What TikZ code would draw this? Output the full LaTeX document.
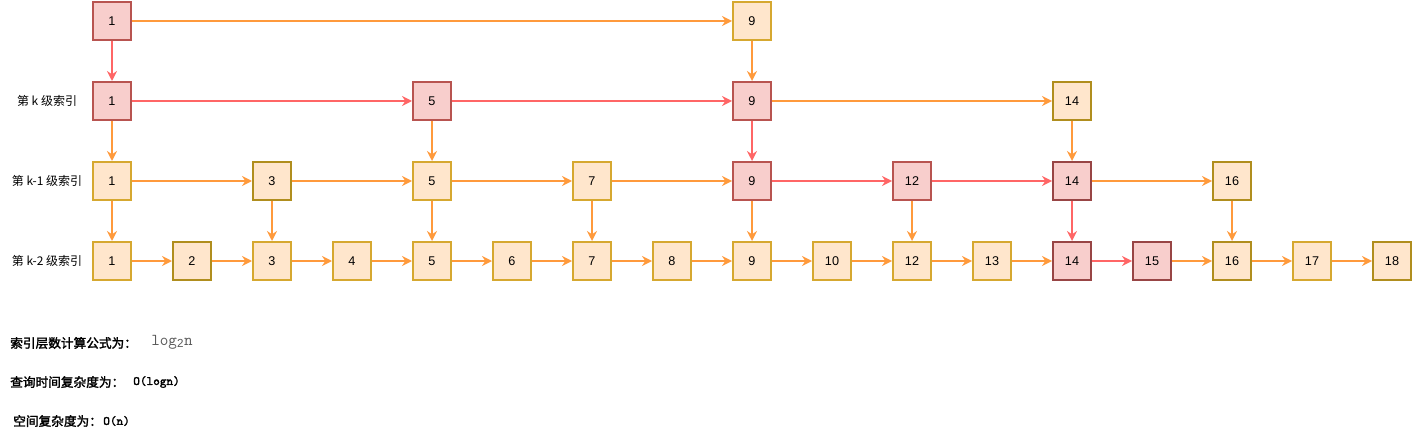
\documentclass[tikz,border=0pt]{standalone}
\usepackage{fontspec}
\setmainfont{Liberation Sans}
\newfontfamily\cjk{Noto Sans CJK SC}
\newfontfamily\cjkbf[FakeBold=2]{Noto Sans CJK SC}
\newfontfamily\monofnt[FakeBold=1.5]{Latin Modern Mono}
\usetikzlibrary{arrows.meta}

\definecolor{ofill}{HTML}{FFE6CC}
\definecolor{oline}{HTML}{D6A830}
\definecolor{olinedark}{HTML}{B08E1E}
\definecolor{rfill}{HTML}{F8CECC}
\definecolor{rline}{HTML}{B85450}
\definecolor{rlinedark}{HTML}{984545}
\definecolor{oarrow}{HTML}{FF9A3C}
\definecolor{rarrow}{HTML}{FF6666}

\begin{document}
\begin{tikzpicture}[x=0.75pt,y=0.75pt,yscale=-1,xscale=1,
  box/.style={draw, line width=1.5pt, minimum size=28.5pt, inner sep=0pt, font=\fontsize{9.5}{11}\selectfont},
  obox/.style={box, draw=oline, fill=ofill},
  oboxd/.style={box, draw=olinedark, fill=ofill},
  rbox/.style={box, draw=rline, fill=rfill},
  rboxd/.style={box, draw=rlinedark, fill=rfill},
  oarr/.style={draw=oarrow, line width=1.5pt, -{Stealth[length=7.5pt,width=7.5pt,inset=2.5pt]}},
  rarr/.style={draw=rarrow, line width=1.5pt, -{Stealth[length=7.5pt,width=7.5pt,inset=2.5pt]}},
  lbl/.style={inner sep=0pt, font=\cjk\fontsize{9}{11}\selectfont},
  note/.style={anchor=west, inner sep=0pt, font=\cjkbf\fontsize{9.5}{12}\selectfont},
  formula/.style={anchor=west, inner sep=0pt, font=\monofnt\fontsize{9.5}{11}\selectfont}]
\useasboundingbox (0,0) rectangle (1412,442);

% top row
\node[rbox] (t1) at (112,21) {1};
\node[obox] (t9) at (752,21) {9};

% level k
\node[lbl] (lk) at (47,101) {第 k 级索引};
\node[rbox] (a1) at (112,101) {1};
\node[rbox] (a5) at (432,101) {5};
\node[rbox] (a9) at (752,101) {9};
\node[oboxd] (a14) at (1072,101) {14};

% level k-1
\node[lbl] (lk1) at (47,181) {第 k-1 级索引};
\node[obox] (b1) at (112,181) {1};
\node[oboxd] (b3) at (272,181) {3};
\node[obox] (b5) at (432,181) {5};
\node[obox] (b7) at (592,181) {7};
\node[rbox] (b9) at (752,181) {9};
\node[rbox] (b12) at (912,181) {12};
\node[rboxd] (b14) at (1072,181) {14};
\node[oboxd] (b16) at (1232,181) {16};

% level k-2
\node[lbl] (lk2) at (47,261) {第 k-2 级索引};
\node[obox] (c1) at (112,261) {1};
\node[oboxd] (c2) at (192,261) {2};
\node[obox] (c3) at (272,261) {3};
\node[obox] (c4) at (352,261) {4};
\node[obox] (c5) at (432,261) {5};
\node[obox] (c6) at (512,261) {6};
\node[obox] (c7) at (592,261) {7};
\node[obox] (c8) at (672,261) {8};
\node[obox] (c9) at (752,261) {9};
\node[obox] (c10) at (832,261) {10};
\node[obox] (c12) at (912,261) {12};
\node[obox] (c13) at (992,261) {13};
\node[rboxd] (c14) at (1072,261) {14};
\node[rboxd] (c15) at (1152,261) {15};
\node[oboxd] (c16) at (1232,261) {16};
\node[obox] (c17) at (1312,261) {17};
\node[oboxd] (c18) at (1392,261) {18};

% Connection: top row
\draw[oarr] (t1) -- (t9);
\draw[rarr] (t1) -- (a1);
\draw[oarr] (t9) -- (a9);

% Connection: level k
\draw[rarr] (a1) -- (a5);
\draw[rarr] (a5) -- (a9);
\draw[oarr] (a9) -- (a14);
\draw[oarr] (a1) -- (b1);
\draw[oarr] (a5) -- (b5);
\draw[rarr] (a9) -- (b9);
\draw[oarr] (a14) -- (b14);

% Connection: level k-1
\draw[oarr] (b1) -- (b3);
\draw[oarr] (b3) -- (b5);
\draw[oarr] (b5) -- (b7);
\draw[oarr] (b7) -- (b9);
\draw[rarr] (b9) -- (b12);
\draw[rarr] (b12) -- (b14);
\draw[oarr] (b14) -- (b16);
\draw[oarr] (b1) -- (c1);
\draw[oarr] (b3) -- (c3);
\draw[oarr] (b5) -- (c5);
\draw[oarr] (b7) -- (c7);
\draw[oarr] (b9) -- (c9);
\draw[oarr] (b12) -- (c12);
\draw[rarr] (b14) -- (c14);
\draw[oarr] (b16) -- (c16);

% Connection: level k-2
\draw[oarr] (c1) -- (c2);
\draw[oarr] (c2) -- (c3);
\draw[oarr] (c3) -- (c4);
\draw[oarr] (c4) -- (c5);
\draw[oarr] (c5) -- (c6);
\draw[oarr] (c6) -- (c7);
\draw[oarr] (c7) -- (c8);
\draw[oarr] (c8) -- (c9);
\draw[oarr] (c9) -- (c10);
\draw[oarr] (c10) -- (c12);
\draw[oarr] (c12) -- (c13);
\draw[oarr] (c13) -- (c14);
\draw[rarr] (c14) -- (c15);
\draw[oarr] (c15) -- (c16);
\draw[oarr] (c16) -- (c17);
\draw[oarr] (c17) -- (c18);

% Text Node
\node[note] (n1) at (10,343) {索引层数计算公式为：};
\node[anchor=west, inner sep=0pt, text=black!65, font=\ttfamily\fontsize{12.5}{14}\selectfont] (n1f) at (151,342) {log$_{\mathrm{2}}$n};
\node[note] (n2) at (10,382) {查询时间复杂度为：};
\node[formula] (n2f) at (133,382) {O(logn)};
\node[note] (n3) at (13,421) {空间复杂度为：};
\node[formula] (n3f) at (103,421) {O(n)};

\end{tikzpicture}
\end{document}
